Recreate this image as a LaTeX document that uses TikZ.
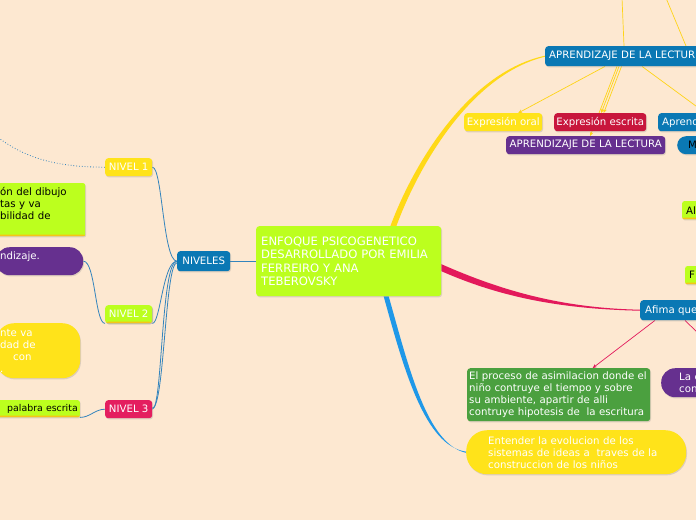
\documentclass[tikz,border=0pt]{standalone}
\usepackage{fontspec}
\setmainfont{DejaVu Sans}
\usetikzlibrary{arrows.meta,shadows}
\pgfdeclarelayer{bg}
\pgfdeclarelayer{edges}
\pgfsetlayers{bg,edges,main}
\definecolor{bgc}{HTML}{FDE8D1}
\definecolor{lime}{HTML}{BCFF1E}
\definecolor{ylw}{HTML}{FFE31A}
\definecolor{blu}{HTML}{0A78B4}
\definecolor{rd}{HTML}{C8163C}
\definecolor{pk}{HTML}{E41E5F}
\definecolor{prp}{HTML}{66308F}
\definecolor{grn}{HTML}{4BA03F}
\definecolor{sky}{HTML}{1F98E8}
\definecolor{lnb}{HTML}{3384BD}
\definecolor{uline}{HTML}{F5C518}
\definecolor{redc}{HTML}{E3195B}
\tikzset{
  topic/.style={rounded corners=3pt, inner xsep=4pt, inner ysep=0pt, anchor=north west,
    align=left, text=white, font=\fontsize{10.2}{12}\selectfont,
    drop shadow={shadow xshift=0.8pt, shadow yshift=-1.2pt, opacity=0.25}},
  tag/.style={topic, align=center, inner xsep=1pt},
  pill/.style={topic, rounded corners=13.5pt},
  limebox/.style={topic, rounded corners=2pt, fill=lime, text=black,
    path picture={\fill[uline] (path picture bounding box.south west) rectangle ([yshift=1.5pt]path picture bounding box.south east);}},
  link/.style={lnb, line width=0.8pt},
  ylink/.style={ylw!85!orange, line width=0.7pt, -{Stealth[length=4pt,width=3.5pt]}},
  rlink/.style={redc, line width=0.7pt, -{Stealth[length=4pt,width=3.5pt]}}
}
\begin{document}
\begin{tikzpicture}[x=1pt,y=-1pt]
    \useasboundingbox (0,0) rectangle (696,520);
    \begin{pgfonlayer}{bg}
        \fill[bgc] (0,0) rectangle (696,520);
    \end{pgfonlayer}

    \node[topic, fill=lime, minimum height=70pt, text width=175pt, inner xsep=5pt,
      font=\fontsize{11.6}{13.5}\selectfont] (central) at (256,226)
      {ENFOQUE PSICOGENETICO\\DESARROLLADO POR EMILIA\\FERREIRO Y ANA\\TEBEROVSKY};

    \node[tag, fill=blu, minimum width=53pt, minimum height=20pt] (niveles) at (177,251) {NIVELES};
    \node[tag, fill=ylw, minimum width=47pt, minimum height=18pt] (n1) at (105,158) {NIVEL 1};
    \node[limebox, tag, rounded corners=3pt, minimum width=47pt, minimum height=18pt] (n2) at (105,305) {NIVEL 2};
    \node[tag, fill=pk, minimum width=47pt, minimum height=18pt] (n3) at (105,400) {NIVEL 3};

    \node[limebox, minimum height=53pt, text width=81pt] (dibujo) at (-4,183) {ón del dibujo\\tas y va\\bilidad de\\~};
    \node[pill, fill=prp, minimum height=28pt, text width=79pt] (aprendizaje) at (-4,247) {ndizaje.\\~};
    \node[pill, fill=ylw, rounded corners=18pt, minimum height=55pt, text width=76pt] (capacidad) at (-4,323)
      {nte va\\dad de\\\hspace*{13pt}con\\.};
    \node[limebox, anchor=north east, inner xsep=2pt, minimum height=17pt, text width=82pt, align=right,
      font=\fontsize{9.4}{12}\selectfont] (palabra) at (80,400) {palabra escrita};

    \node[topic, fill=blu, minimum height=20pt, text width=180pt] (lectura) at (545,46) {APRENDIZAJE DE LA LECTUR};
    \node[tag, fill=ylw, minimum width=78pt, minimum height=18pt] (oral) at (464,113) {Expresión oral};
    \node[tag, fill=rd, minimum width=92pt, minimum height=18pt] (escrita) at (554,113) {Expresión escrita};
    \node[topic, fill=blu, minimum height=18pt, text width=80pt] (aprendb) at (658,113) {Aprend};
    \node[tag, fill=prp, minimum width=159pt, minimum height=18pt] (lecturab) at (506,136) {APRENDIZAJE DE LA LECTURA};
    \node[pill, fill=blu, rounded corners=9pt, text=black, minimum height=18pt, text width=50pt, inner xsep=11pt] (mpill) at (677,136) {M};
    \node[limebox, minimum height=18pt, text width=60pt] (al) at (682,201) {Al};
    \node[limebox, minimum height=18pt, text width=60pt] (fo) at (685,266) {F};

    \node[topic, fill=blu, minimum height=20pt, text width=90pt, inner xsep=5pt] (afima) at (640,300) {Afima que};
    \node[topic, fill=grn, minimum height=53pt, text width=179pt, inner xsep=2pt] (asimilacion) at (467,368)
      {El proceso de asimilacion donde el\\niño contruye el tiempo y sobre\\su ambiente, apartir de alli\\contruye hipotesis de\ \ la escritura};
    \node[pill, fill=prp, rounded corners=14pt, minimum height=29pt, text width=80pt, inner xsep=18pt] (lae) at (661,368) {La e\\con};
    \node[pill, fill=ylw, rounded corners=21pt, minimum height=44pt, text width=176pt, inner xsep=22pt] (evolucion) at (466,430)
      {Entender la evolucion de los\\sistemas de ideas a\ \ traves de la\\construccion de los niños};

    \coordinate (izq) at (-4,136);
    \coordinate (arr1) at (622,-2);
    \coordinate (arr2) at (666,-2);
    \coordinate (der1) at (700,109);
    \coordinate (der2) at (701,336);

    \begin{pgfonlayer}{edges}
        \draw[link] (niveles.east) -- (central.west);
        \draw[link] (niveles.west) .. controls +(-14,0) and +(10,0) .. (n1.east);
        \draw[link] (niveles.west) .. controls +(-14,0) and +(8,0) .. (n2.south east);
        \draw[link] (niveles.west) .. controls +(-16,0) and +(10,0) .. (n3.east);
        \draw[link] ([yshift=-1.5pt]niveles.west) .. controls +(-12,0) and +(12,0) .. ([yshift=1pt]n3.east);
        \draw[link, dotted] (n1.west) .. controls (55,167) and (25,158) .. (izq);
        \draw[link] (aprendizaje.east) .. controls +(12,0) and +(-10,0) .. (n2.south west);
        \draw[link] (palabra.south east) .. controls +(10,0) and +(-10,0) .. (n3.west);

        \fill[ylw!90!orange] ([xshift=-51pt]central.north east) .. controls (415,160) and (470,72) .. ([yshift=0.5pt]lectura.west)
          -- ([yshift=-0.5pt]lectura.west) .. controls (473,74) and (420,162) .. ([xshift=-45pt]central.north east) -- cycle;
        \draw[ylink] ([xshift=60pt]lectura.south west) -- ([xshift=15pt]oral.north);
        \draw[ylink] ([xshift=74pt]lectura.south west) -- ([xshift=1pt]escrita.north);
        \draw[ylink] ([xshift=76.5pt]lectura.south west) -- ([xshift=3.5pt]escrita.north);
        \draw[ylink] ([xshift=72pt]lectura.south west) -- ([xshift=4.5pt]lecturab.north);
        \draw[ylink, -] ([xshift=97pt]lectura.south west) -- (der1);
        \draw[ylink, -] (arr1) -- ([xshift=79pt]lectura.north west);
        \draw[ylink, -] (arr2) -- ([xshift=141pt]lectura.north west);

        \fill[redc] ([yshift=-3pt]central.east) .. controls (500,290) and (560,308) .. ([yshift=0.5pt]afima.west)
          -- ([yshift=-0.5pt]afima.west) .. controls (560,309) and (500,297) .. ([yshift=-10pt]central.east) -- cycle;
        \draw[rlink] ([xshift=15pt]afima.south west) -- ([xshift=34pt]asimilacion.north);
        \draw[rlink, -] ([xshift=45pt]afima.south west) -- (der2);

        \fill[sky] ([xshift=35pt]central.south) .. controls (404,370) and (425,446) .. ([yshift=0.6pt]evolucion.west)
          -- ([yshift=-0.6pt]evolucion.west) .. controls (427,444) and (409,368) .. ([xshift=40pt]central.south) -- cycle;
    \end{pgfonlayer}
\end{tikzpicture}
\end{document}
